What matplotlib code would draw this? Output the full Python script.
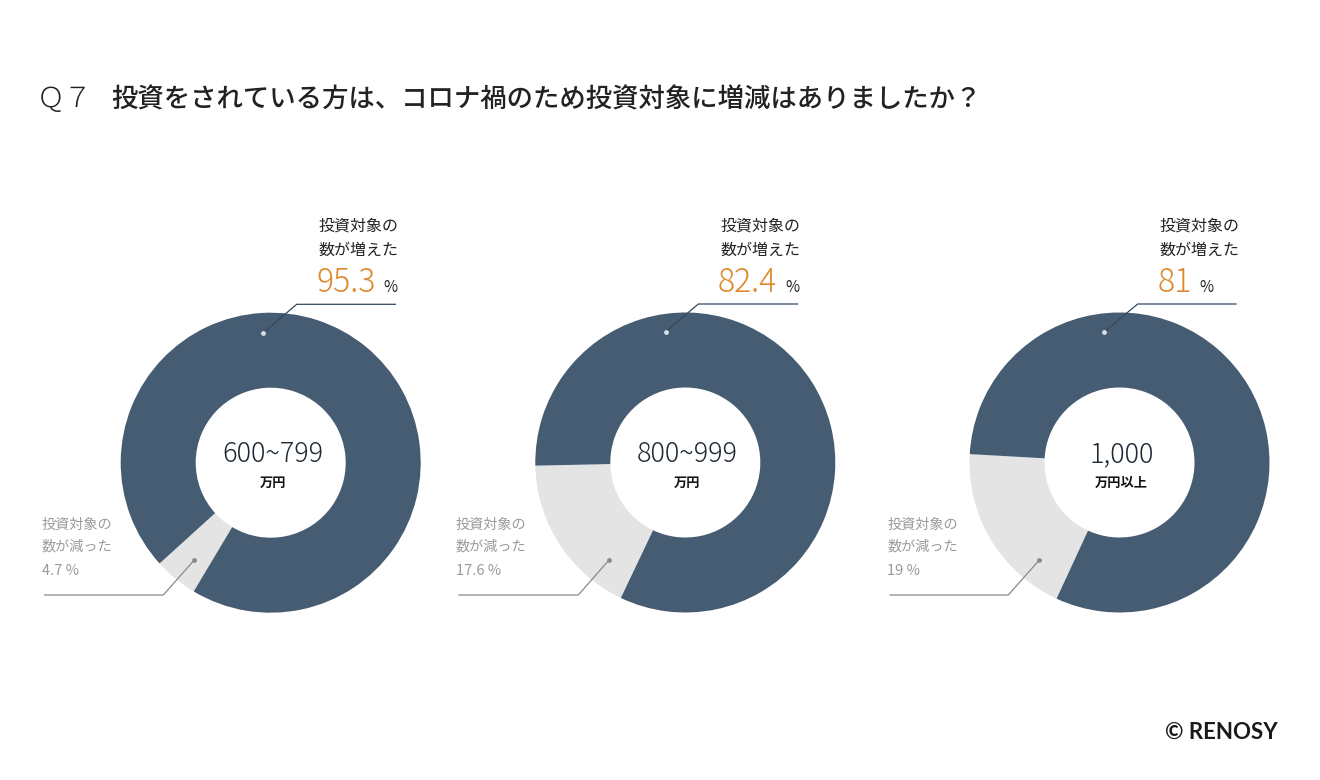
import matplotlib
matplotlib.use("Agg")
import matplotlib.pyplot as plt

plt.rcParams['font.family'] = ['Noto Sans CJK JP', 'DejaVu Sans']

# ---- data ----
groups = ["600~799", "800~999", "1,000"]
group_units = ["万円", "万円", "万円以上"]
increased = [95.3, 82.4, 81]
decreased = [4.7, 17.6, 19]
inc_labels = ["95.3", "82.4", "81"]
dec_labels = ["4.7 %", "17.6 %", "19 %"]
title_q = "Ｑ７"
title = "投資をされている方は、コロナ禍のため投資対象に増減はありましたか？"

# ---- style / layout ----
W, H = 1320, 780
DARK = "#465c72"
LIGHT = "#e4e4e4"
ORANGE = "#e0892c"
GREY = "#9a9a9a"
centers = [(270.7, 462.7), (685.3, 462.5), (1119.5, 462.5)]
start_angles = [222.2, 181.2, 176.8]
R, RW = 150, 75

fig = plt.figure(figsize=(W / 100, H / 100), dpi=100)
ax = fig.add_axes([0, 0, 1, 1])
ax.set_xlim(0, W)
ax.set_ylim(0, H)
ax.set_aspect('equal')
ax.axis('off')

def Y(y):
    return H - y

ax.text(37, Y(99), title_q, fontsize=20, color="#222222", va='center', ha='left', weight='light')
ax.text(111, Y(100), title, fontsize=19, color="#222222", va='center', ha='left', weight='medium')

# per-chart leader geometry (relative to center)
top_dot = [(-7.4, -130), (-19.6, -130.8), (-15.2, -130.8)]
top_elbow = [(26, -158.4), (13, -158.5), (18.2, -158.5)]
top_end = [125.3, 113, 117.2]
bot_dot = [(-76.4, 97.3), (-76.3, 97.5), (-80.2, 97.5)]
bot_elbow = [(-107.4, 132.3), (-107, 132.5), (-111.2, 132.5)]
bot_end = [-226.7, -227, -230]
top_lab_x = [318, 720, 1159.3]
bot_lab_x = [41.7, 456, 887.3]

fig.canvas.draw()
renderer = fig.canvas.get_renderer()

for i in range(3):
    cx, cy = centers[i]
    ax.pie([decreased[i], increased[i]], colors=[LIGHT, DARK], startangle=start_angles[i],
           counterclock=True, radius=R, center=(cx, Y(cy)),
           wedgeprops=dict(width=RW, linewidth=0), frame=True)
    # center labels
    ax.text(cx + 2, Y(454), groups[i], fontsize=19.5, color="#1e2a36", ha='center', va='center', weight='light')
    ax.text(cx + 2, Y(483), group_units[i], fontsize=9.5, color="#111111", ha='center', va='center', weight='bold')

    # top leader
    dx, dy = top_dot[i]
    ex, ey = top_elbow[i]
    ax.plot([cx + dx, cx + ex, cx + top_end[i]], [Y(cy + dy), Y(cy + ey), Y(cy + ey)],
            color="#34495e", lw=0.9, solid_capstyle='butt')
    ax.plot(cx + dx, Y(cy + dy), 'o', ms=3.5, color="#d9dde2", mec='none')

    # bottom leader
    dx, dy = bot_dot[i]
    ex, ey = bot_elbow[i]
    ax.plot([cx + dx, cx + ex, cx + bot_end[i]], [Y(cy + dy), Y(cy + ey), Y(cy + ey)],
            color="#8a8a8a", lw=0.9, solid_capstyle='butt')
    ax.plot(cx + dx, Y(cy + dy), 'o', ms=3.5, color="#8a8a8a", mec='none')

    # top labels
    tx = top_lab_x[i]
    ax.text(tx, Y(226), "投資対象の", fontsize=11.5, color="#222222", ha='left', va='center')
    ax.text(tx, Y(250), "数が増えた", fontsize=11.5, color="#222222", ha='left', va='center')
    t = ax.text(tx - 2, Y(292), inc_labels[i], fontsize=23, color=ORANGE, ha='left', va='baseline', weight='light')
    bb = t.get_window_extent(renderer=renderer)
    ax.text(bb.x1 + 8, Y(292), "%", fontsize=11, color="#222222", ha='left', va='baseline')

    # bottom labels
    bx = bot_lab_x[i]
    ax.text(bx, Y(525), "投資対象の", fontsize=10.2, color=GREY, ha='left', va='center')
    ax.text(bx, Y(547), "数が減った", fontsize=10.2, color=GREY, ha='left', va='center')
    ax.text(bx, Y(571), dec_labels[i], fontsize=10.5, color=GREY, ha='left', va='center')

ax.set_xlim(0, W)
ax.set_ylim(0, H)
ax.axis('off')

ax.text(1278, Y(732), "© RENOSY", fontsize=16, color="#1a1a1a", ha='right', va='center',
        weight='bold', family=['Lato', 'DejaVu Sans'])

fig.savefig("out.png", dpi=100)
